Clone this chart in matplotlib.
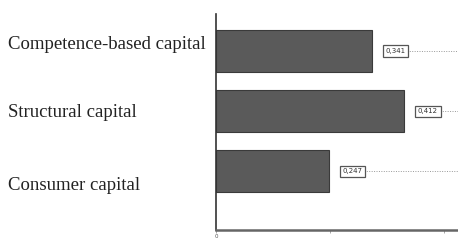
import matplotlib.pyplot as plt
import matplotlib.transforms as mtransforms

categories = ['Consumer capital', 'Structural capital', 'Competence-based capital']
values = [0.247, 0.412, 0.341]
value_labels = ['0,247', '0,412', '0,341']
xticks = [0, 0.25, 0.5]
xtick_labels = ['0', '', '']

fig = plt.figure(figsize=(4.58, 2.41), dpi=100)
ax = fig.add_axes([216 / 458, 11 / 241, 1 - 216 / 458, 216 / 241])

pos = list(range(len(categories)))
ax.barh(pos, values, height=0.7, color='#5a5a5a', edgecolor='#3a3a3a', linewidth=0.8, zorder=2)

ax.set_xlim(0, 0.53)
ax.set_ylim(-0.975, 2.62)

# value boxes with dotted leader lines
for p, v, lab in zip(pos, values, value_labels):
    ax.hlines(p, v + 0.03, 0.53, colors='#999999', linestyles=(0, (1, 1.5)), linewidth=0.7, zorder=1)
    ax.text(v + 0.03, p, lab, fontsize=5, va='center', ha='left', color='#333333',
            bbox=dict(boxstyle='square,pad=0.4', facecolor='white', edgecolor='#555555', linewidth=0.9),
            zorder=3)

ax.set_yticks(pos)
ax.set_yticklabels(categories, fontsize=13.5, family='Liberation Serif', color='#222222', ha='left')
ax.tick_params(axis='y', length=0, pad=150)
# labels are spread a bit wider than the bars (pixels downward)
shifts = [12, -1, -9]
for t, s in zip(ax.get_yticklabels(), shifts):
    t.set_transform(t.get_transform() + mtransforms.ScaledTranslation(0, -s / 100, fig.dpi_scale_trans))

ax.set_xticks(xticks)
ax.set_xticklabels(xtick_labels, fontsize=4, color='#555555')
ax.tick_params(axis='x', length=2, width=0.6, color='#999999', pad=1)

for s in ['top', 'right']:
    ax.spines[s].set_visible(False)
ax.spines['left'].set_color('#333333')
ax.spines['left'].set_linewidth(1.2)
ax.spines['bottom'].set_color('#666666')
ax.spines['bottom'].set_linewidth(1.8)

fig.savefig('out.png', dpi=100)
